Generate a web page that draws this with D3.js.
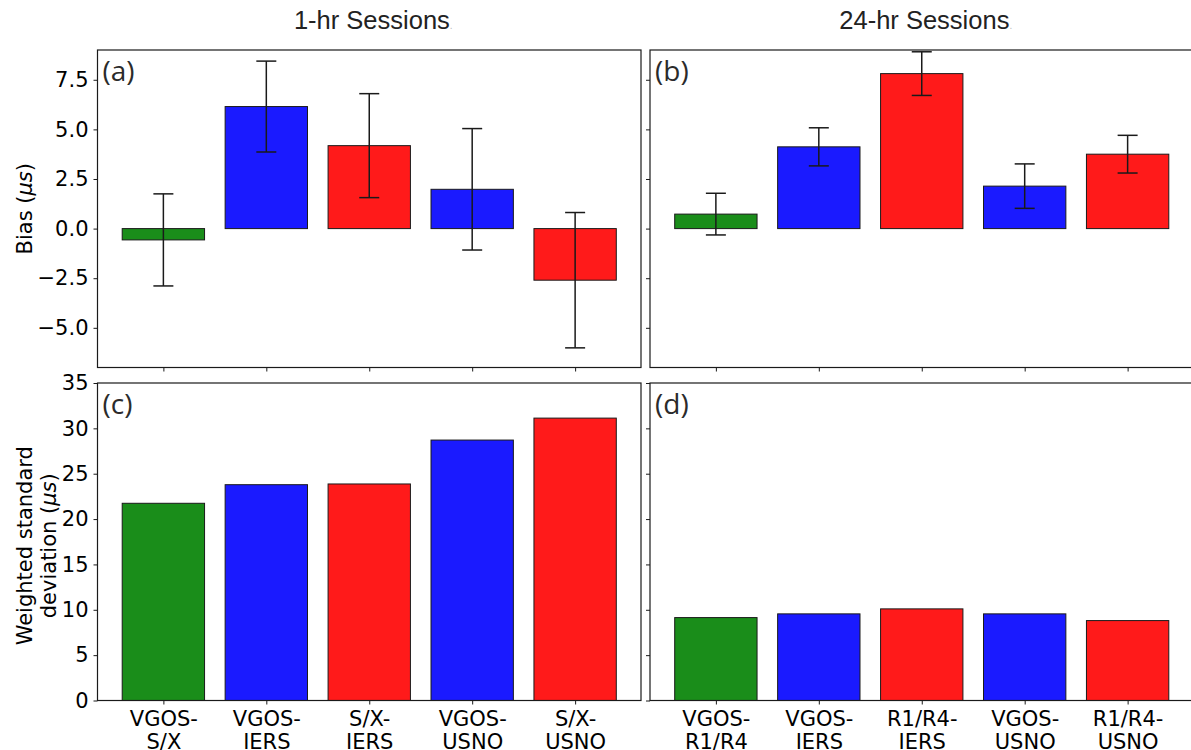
<!DOCTYPE html>
<html>
<head>
<meta charset="utf-8">
<script src="https://cdn.jsdelivr.net/npm/d3@7"></script>
<style>
  html, body { margin: 0; padding: 0; background: #fff; }
  svg { display: block; }
  .tick text { font-family: "DejaVu Sans", sans-serif; font-size: 21px; fill: #000; }
</style>
</head>
<body>
<svg id="chart" width="1191" height="750"></svg>
<script>
// data
const labels1hr = [["VGOS-", "S/X"], ["VGOS-", "IERS"], ["S/X-", "IERS"], ["VGOS-", "USNO"], ["S/X-", "USNO"]];
const labels24hr = [["VGOS-", "R1/R4"], ["VGOS-", "IERS"], ["R1/R4-", "IERS"], ["VGOS-", "USNO"], ["R1/R4-", "USNO"]];
const bias1hr = [-0.57, 6.15, 4.18, 1.98, -2.60];
const biasErr1hr = [2.32, 2.29, 2.62, 3.06, 3.41];
const bias24hr = [0.73, 4.12, 7.81, 2.14, 3.75];
const biasErr24hr = [1.05, 0.96, 1.10, 1.12, 0.95];
const wstd1hr = [21.74, 23.79, 23.87, 28.71, 31.13];
const wstd24hr = [9.14, 9.55, 10.10, 9.55, 8.81];
const barColors = ["#1a8d1a", "#1a1aff", "#ff1a1a", "#1a1aff", "#ff1a1a"];
const biasTicks = [-5, -2.5, 0, 2.5, 5, 7.5];
const wstdTicks = [0, 5, 10, 15, 20, 25, 30, 35];
const biasLim = [-7, 9];
const wstdLim = [0, 35];

const svg = d3.select("#chart");

const panelW = 543.5, panelH = 317.5;
const cols = [97.5, 650];
const rows = [50, 383];

const drawPanel = (o) => {
	const g = svg.append("g").attr("transform", "translate(" + o.x + "," + o.y + ")");
	const x = d3.scaleLinear().domain([-0.64, 4.64]).range([0, panelW]);
	const y = d3.scaleLinear().domain(o.lim).range([panelH, 0]);
	const idx = d3.range(o.values.length);

	// bars
	g.selectAll(".bar")
		.data(idx)
		.enter().append("rect")
			.attr("class", "bar")
			.attr("x", i => x(i - 0.4))
			.attr("width", x(0.4) - x(-0.4))
			.attr("y", i => y(Math.max(0, o.values[i])))
			.attr("height", i => Math.abs(y(o.values[i]) - y(0)))
			.attr("fill", i => barColors[i])
			.attr("stroke", "#1a1a1a")
			.attr("stroke-width", 1);

	// error bars
	if (o.errors) {
		const eb = g.selectAll(".err")
			.data(idx)
			.enter().append("g")
				.attr("class", "err")
				.attr("stroke", "#1a1a1a")
				.attr("stroke-width", 1.5);
		eb.append("line")
			.attr("x1", i => x(i)).attr("x2", i => x(i))
			.attr("y1", i => y(o.values[i] - o.errors[i]))
			.attr("y2", i => y(o.values[i] + o.errors[i]));
		[-1, 1].forEach(s => {
			eb.append("line")
				.attr("x1", i => x(i) - 10).attr("x2", i => x(i) + 10)
				.attr("y1", i => y(o.values[i] + s * o.errors[i]))
				.attr("y2", i => y(o.values[i] + s * o.errors[i]));
		});
	}

	// y axis
	const ya = g.append("g")
		.call(d3.axisLeft(y).tickValues(o.ticks).tickSize(4).tickPadding(5)
			.tickFormat(o.showY ? o.fmt : ""));
	ya.select(".domain").remove();

	// x axis
	const xa = g.append("g")
		.attr("transform", "translate(0," + panelH + ")")
		.call(d3.axisBottom(x).tickValues(idx).tickSize(4).tickFormat(""));
	xa.select(".domain").remove();
	if (o.cats) {
		xa.selectAll(".tick").append("text")
			.attr("text-anchor", "middle")
			.attr("fill", "#000")
			.selectAll("tspan")
			.data(i => o.cats[i])
			.enter().append("tspan")
				.attr("x", 0)
				.attr("y", (d, k) => 25 + k * 23)
				.text(d => d);
	}
	g.selectAll(".tick line").attr("stroke", "#1a1a1a").attr("stroke-width", 1);

	// frame
	g.append("rect")
		.attr("width", panelW).attr("height", panelH)
		.attr("fill", "none").attr("stroke", "#1a1a1a").attr("stroke-width", 1.2);

	// panel letter
	g.append("text")
		.attr("x", 5).attr("y", 31)
		.attr("font-family", "'Open Sans', sans-serif")
		.attr("font-size", 28)
		.attr("fill", "#2b2b2b")
		.text(o.letter);
};

const fmtBias = d3.format(".1f");
const fmtWstd = d3.format("d");

drawPanel({x: cols[0], y: rows[0], values: bias1hr, errors: biasErr1hr, lim: biasLim, ticks: biasTicks, fmt: fmtBias, showY: true, letter: "(a)"});
drawPanel({x: cols[1], y: rows[0], values: bias24hr, errors: biasErr24hr, lim: biasLim, ticks: biasTicks, fmt: fmtBias, showY: false, letter: "(b)"});
drawPanel({x: cols[0], y: rows[1], values: wstd1hr, lim: wstdLim, ticks: wstdTicks, fmt: fmtWstd, showY: true, cats: labels1hr, letter: "(c)"});
drawPanel({x: cols[1], y: rows[1], values: wstd24hr, lim: wstdLim, ticks: wstdTicks, fmt: fmtWstd, showY: false, cats: labels24hr, letter: "(d)"});

// column titles
[["1-hr Sessions", cols[0]], ["24-hr Sessions", cols[1]]].forEach(([t, cx]) => {
	const tt = svg.append("text")
		.attr("x", cx + panelW / 2 + 4).attr("y", 29)
		.attr("text-anchor", "middle")
		.attr("font-family", "'Liberation Sans', Arial, sans-serif")
		.attr("font-size", 25.5)
		.attr("fill", "#222");
	tt.append("tspan").text(t);
	tt.append("tspan").attr("fill", "#bbb").attr("font-size", 10).text(".");
});

// Bias label
const bl = svg.append("text")
	.attr("transform", "translate(32," + (rows[0] + panelH / 2) + ") rotate(-90)")
	.attr("text-anchor", "middle")
	.attr("font-family", "'DejaVu Sans', sans-serif")
	.attr("font-size", 21)
	.attr("fill", "#000");
bl.append("tspan").text("Bias (");
bl.append("tspan").attr("font-style", "italic").text("\u03bcs");
bl.append("tspan").text(")");

// Weighted std label: two lines, unit on the second
const wl = svg.append("text")
	.attr("transform", "translate(32," + (rows[1] + panelH / 2 + 4) + ") rotate(-90)")
	.attr("text-anchor", "middle")
	.attr("font-family", "'DejaVu Sans', sans-serif")
	.attr("font-size", 21)
	.attr("fill", "#000");
wl.append("tspan").attr("x", 0).attr("dy", 0).text("Weighted standard");
const l2 = wl.append("tspan").attr("x", 0).attr("dy", 24);
l2.append("tspan").text("deviation (");
l2.append("tspan").attr("font-style", "italic").text("\u03bcs");
l2.append("tspan").text(")");
</script>
</body>
</html>
